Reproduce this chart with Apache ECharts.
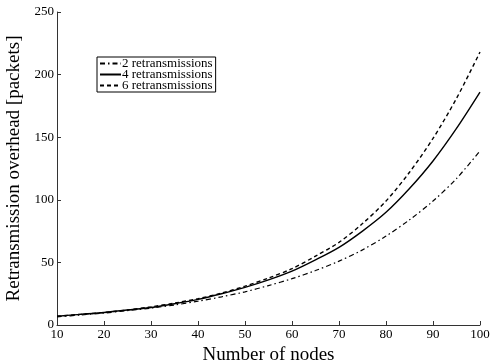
<!DOCTYPE html>
<html>
<head>
<meta charset="utf-8">
<script src="https://cdn.jsdelivr.net/npm/echarts@6/dist/echarts.min.js"></script>
<style>html,body{margin:0;padding:0;background:#fff}#c{width:492px;height:360px}</style>
</head>
<body>
<div id="c"></div>
<script>
const nodes = [10, 15, 20, 25, 30, 35, 40, 45, 50, 55, 60, 65, 70, 75, 80, 85, 90, 95, 100];
const retx2 = [6.5, 8, 9.5, 11.5, 13.5, 16, 19, 22.5, 26.5, 31.5, 37, 43.5, 51, 60, 71, 84, 99, 117, 139];
const retx4 = [7, 8.5, 10, 12, 14, 17, 20.5, 25, 30, 36, 43, 52, 62, 75, 90, 109, 131, 157, 186];
const retx6 = [7, 8.5, 10, 12, 14.5, 17.5, 21, 25.5, 31, 37.5, 45, 55, 66, 81, 99, 122, 149, 181, 218];
const seriesNames = ['2 retransmissions', '4 retransmissions', '6 retransmissions'];
const yTicks = [0, 50, 100, 150, 200, 250];

const font = 'Liberation Serif';
const pair = arr => nodes.map((n, i) => [n, arr[i]]);
const chart = echarts.init(document.getElementById('c'));
chart.setOption({
  animation: false,
  grid: { left: 57, right: 12, top: 12, bottom: 35, containLabel: false, outerBoundsMode: 'none' },
  legend: {
    orient: 'vertical', left: 97, top: 57,
    data: seriesNames,
    borderColor: '#000', borderWidth: 1, padding: [0, 3, 0, 2],
    itemGap: -2, itemWidth: 21, itemHeight: 10,
    itemStyle: { opacity: 0 },
    textStyle: { fontFamily: font, fontSize: 13, lineHeight: 11, color: '#000', padding: [0, 0, 0, -4] }
  },
  xAxis: {
    type: 'value', min: 10, max: 100, interval: 10,
    name: 'Number of nodes', nameLocation: 'middle', nameGap: 12,
    nameTextStyle: { fontFamily: font, fontSize: 19, color: '#000', verticalAlign: 'top' },
    axisLine: { lineStyle: { color: '#333', width: 1 } },
    axisTick: { inside: true, length: 4, lineStyle: { color: '#333' } },
    axisLabel: { fontFamily: font, fontSize: 13, color: '#000', margin: 3 },
    splitLine: { show: false }
  },
  yAxis: {
    type: 'value', min: 0, max: 250, interval: 50,
    name: 'Retransmission overhead [packets]', nameLocation: 'middle', nameGap: 25,
    nameTextStyle: { fontFamily: font, fontSize: 19, color: '#000' },
    axisLine: { show: true, lineStyle: { color: '#333', width: 1 } },
    axisTick: { show: true, inside: true, length: 4, lineStyle: { color: '#333' } },
    axisLabel: { fontFamily: font, fontSize: 13, color: '#000', margin: 3,
      formatter: v => yTicks.includes(v) ? String(v) : '' },
    splitLine: { show: false }
  },
  series: [
    { name: seriesNames[0], type: 'line', data: pair(retx2), smooth: 0.3, symbol: 'none',
      itemStyle: { color: '#000' },
      lineStyle: { color: '#000', width: 1.2, type: [5, 3, 1.5, 3] } },
    { name: seriesNames[1], type: 'line', data: pair(retx4), smooth: 0.3, symbol: 'none',
      itemStyle: { color: '#000' },
      lineStyle: { color: '#000', width: 1.4, type: 'solid' } },
    { name: seriesNames[2], type: 'line', data: pair(retx6), smooth: 0.3, symbol: 'none',
      itemStyle: { color: '#000' },
      lineStyle: { color: '#000', width: 1.4, type: [4, 3] } }
  ]
});
</script>
</body>
</html>
